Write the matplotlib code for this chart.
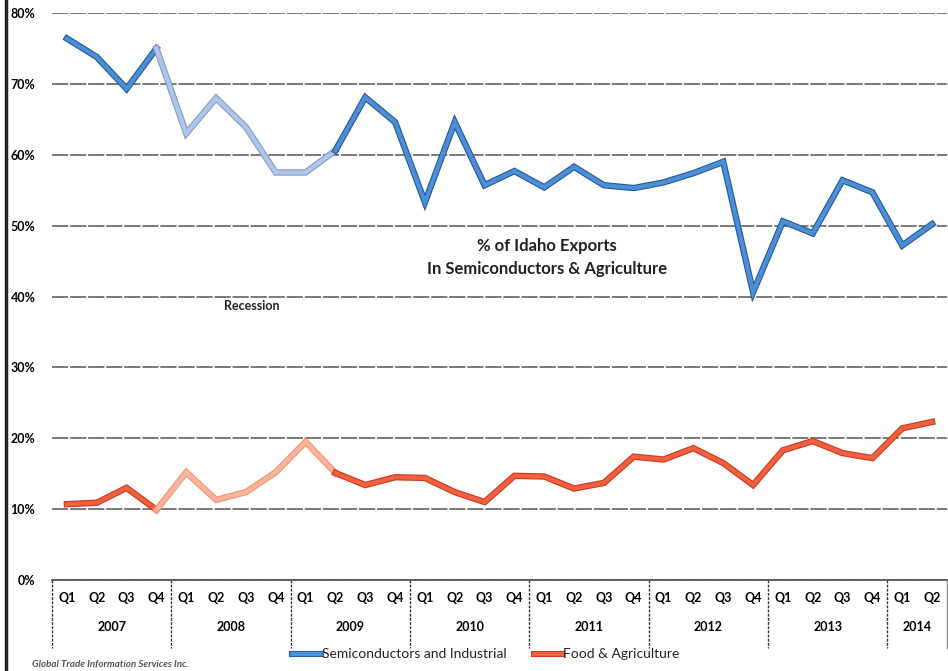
import numpy as np
import matplotlib.pyplot as plt
import matplotlib.patheffects as pe
from matplotlib.transforms import blended_transform_factory

plt.rcParams['font.family'] = ['Lato', 'DejaVu Sans']

years = ['2007', '2008', '2009', '2010', '2011', '2012', '2013', '2014']
quarters = ['Q1', 'Q2', 'Q3', 'Q4'] * 7 + ['Q1', 'Q2']

semis = [76.4, 73.8, 69.3, 75.0, 63.0, 68.0, 63.9, 57.5,
         57.5, 60.6, 68.1, 64.6, 53.3, 64.6, 55.7, 57.7,
         55.4, 58.3, 55.7, 55.3, 56.1, 57.4, 59.0, 40.6,
         50.6, 48.9, 56.4, 54.7, 47.2, 50.2]
food = [10.7, 10.9, 13.0, 9.9, 15.2, 11.3, 12.4, 15.2,
        19.5, 15.1, 13.4, 14.5, 14.4, 12.4, 11.0, 14.7,
        14.6, 12.9, 13.7, 17.4, 17.0, 18.6, 16.5, 13.4,
        18.3, 19.6, 17.9, 17.2, 21.4, 22.3]

# recession stretch drawn lighter (Q4 2007 .. Q2 2009)
rec_start, rec_end = 3, 9

fig = plt.figure(figsize=(9.48, 6.71), dpi=100)
ax = fig.add_axes([52 / 948, 1 - 580 / 671, 895 / 948, 567 / 671])

x = np.arange(len(semis))
blue, blue_dark = '#4a8fd8', '#27598f'
light_blue, light_dark = '#aac7ee', '#9099bb'
orange, orange_dark = '#f2603f', '#c93a1e'
light_orange = '#f9b49c'

def seg(xs, ys, c, edge, lw=3.0):
    ax.plot(xs, ys, color=c, lw=lw, solid_joinstyle='miter', zorder=3,
            path_effects=[pe.Stroke(linewidth=lw + 1.6, foreground=edge), pe.Normal()])

seg(x[:rec_start + 1], semis[:rec_start + 1], blue, blue_dark)
seg(x[rec_start:rec_end + 1], semis[rec_start:rec_end + 1], light_blue, light_dark)
seg(x[rec_end:], semis[rec_end:], blue, blue_dark)

seg(x[:rec_start + 1], food[:rec_start + 1], orange, orange_dark)
seg(x[rec_start:rec_end + 1], food[rec_start:rec_end + 1], light_orange, '#f39578')
seg(x[rec_end:], food[rec_end:], orange, orange_dark)

ax.set_xlim(-0.5, len(semis) - 0.5)
ax.set_ylim(0, 80)
ax.set_yticks(range(0, 81, 10))
ax.set_yticklabels([f'{v}%' for v in range(0, 81, 10)], fontsize=9, fontweight='bold')
ax.yaxis.grid(True, color='#6f6f6f', lw=1.3, ls=(0, (9, 1)))
ax.set_axisbelow(True)
for s in ['top', 'right', 'left']:
    ax.spines[s].set_visible(False)
ax.spines['bottom'].set_color('#555555')
ax.spines['bottom'].set_linewidth(1.3)
ax.tick_params(axis='y', length=0, pad=12)

ax.set_xticks(x)
ax.set_xticklabels(quarters, fontsize=9, fontweight='bold')
ax.tick_params(axis='x', length=0, pad=9)

# year row and separators under the axis
tr = blended_transform_factory(ax.transData, ax.transAxes)
for i, yr in enumerate(years):
    lo = i * 4 - 0.5
    hi = min(lo + 4, len(semis) - 0.5)
    ax.text((lo + hi) / 2, -0.083, yr, transform=tr, ha='center', va='center',
            fontsize=9, fontweight='bold')
for b in range(0, len(semis) + 1, 4):
    ax.plot([b - 0.5, b - 0.5], [0, -0.12], transform=tr, color='#333333',
            lw=1, ls=(0, (2, 1)), clip_on=False)
ax.plot([len(semis) - 0.5] * 2, [0, -0.12], transform=tr, color='#888888',
        lw=1, clip_on=False)

ax.text(16.1, 45.5, '% of Idaho Exports\nIn Semiconductors & Agriculture',
        ha='center', va='center', fontsize=12, fontweight='bold', color='#222222',
        linespacing=1.5)
ax.text(6.2, 38.6, 'Recession', ha='center', va='center', fontsize=9,
        fontweight='bold', color='#222222')

# legend row
ly = 1 - 654 / 671
fig.add_artist(plt.Line2D([292 / 948, 321 / 948], [ly, ly], color=blue, lw=3,
                          path_effects=[pe.Stroke(linewidth=4.4, foreground=blue_dark), pe.Normal()]))
fig.text(322 / 948, ly, 'Semiconductors and Industrial', fontsize=10,
         va='center', color='#222222')
fig.add_artist(plt.Line2D([534 / 948, 562 / 948], [ly, ly], color=orange, lw=3,
                          path_effects=[pe.Stroke(linewidth=4.4, foreground=orange_dark), pe.Normal()]))
fig.text(563 / 948, ly, 'Food & Agriculture', fontsize=10,
         va='center', color='#222222')
fig.text(32 / 948, 1 - 664 / 671, 'Global Trade Information Services Inc.',
         fontsize=7, style='italic', fontweight='bold', color='#555555', va='center')

# left frame line of the scanned page
fig.add_artist(plt.Line2D([6 / 948, 6 / 948], [0, 1], color='#222222', lw=2.5))

fig.savefig('out.png', dpi=100)
